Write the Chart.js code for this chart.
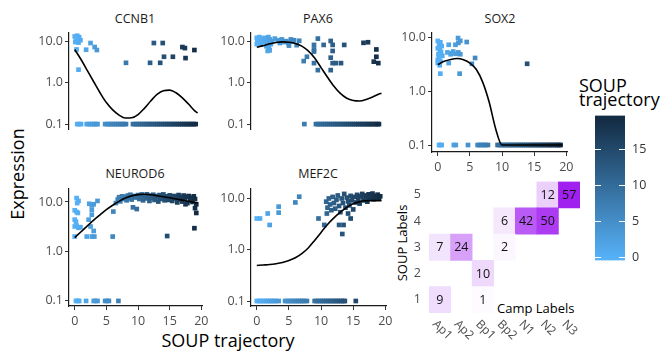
<!DOCTYPE html>
<html>
<head>
<meta charset="utf-8">
<script src="https://cdn.jsdelivr.net/npm/chart.js@4.4.1/dist/chart.umd.min.js"></script>
<style>
body{margin:0;background:#fff;width:661px;height:354px;position:relative;overflow:hidden;font-family:'Open Sans',sans-serif}
canvas{position:absolute}
.t{position:absolute;white-space:nowrap;line-height:1;color:#1a1a1a}
.c{transform:translate(-50%,-50%)}
</style>
</head>
<body>
<div class="t c" style="left:135px;top:19px;font-size:12.5px">CCNB1</div>
<div class="t c" style="left:318px;top:19px;font-size:12.5px">PAX6</div>
<div class="t c" style="left:500px;top:19px;font-size:12.5px">SOX2</div>
<div class="t c" style="left:135px;top:174px;font-size:12.5px">NEUROD6</div>
<div class="t c" style="left:318px;top:174px;font-size:12.5px">MEF2C</div>
<div class="t c" style="left:17px;top:174px;font-size:18px;color:#000;transform:translate(-50%,-50%) rotate(-90deg)">Expression</div>
<div class="t c" style="left:228px;top:340px;font-size:18px;color:#000">SOUP trajectory</div>
<div class="t" style="left:579px;top:76px;font-size:18px;color:#000">SOUP</div>
<div class="t" style="left:579px;top:90px;font-size:18px;color:#000">trajectory</div>
<div class="t" style="left:497px;top:302px;font-size:13px;color:#000">Camp Labels</div>
<div class="t c" style="left:402px;top:243px;font-size:13px;color:#000;transform:translate(-50%,-50%) rotate(-90deg)">SOUP Labels</div>
<script>
// ---- data ----
const xTicks = [0, 5, 10, 15, 20]
const yTicks = [0.1, 1, 10]
const yTickLabels = ['0.1', '1.0', '10.0']
const ZERO = 0.1   // cells with no expression sit on the 0.1 row

const curveX = [0,1,2,3,4,5,6,7,8,9,10,11,12,13,14,15,16,17,18,19,19.4]

const ccnb1X = [0.0,0.4,0.7,0.2,0.9,0.1,0.6,0.3,2.5,1.8,3.15,3.5,0.6,8.1,11.9,12.5,13.9,13.5,14.1,15.5,17.0,17.4,17.5,18.9]
const ccnb1Y = [13,13.5,12.5,11,10.5,9.5,9.2,6.3,9.0,6.2,7.2,6.1,2.05,3.0,3.0,9.0,9.0,3.0,4.2,4.2,7.2,6.8,3.9,6.1]
const ccnb1Zero = [0.4,0.7,1.0,1.9,2.2,2.5,2.8,3.1,3.4,3.6,4.8,5.1,5.4,5.7,6.0,6.3,6.6,6.9,7.2,7.5,7.8,8.1,
  9.2,9.5,9.8,10.1,10.4,10.7,11.0,11.3,11.6,11.9,12.2,12.5,12.8,13.1,13.4,13.7,14.0,14.3,14.6,14.9,15.2,
  15.5,15.8,16.1,16.4,16.7,17.0,17.3,17.6,17.9,18.2,18.5,18.8,19.1]
const ccnb1Curve = [6.3,3.6,1.95,1.05,0.57,0.33,0.22,0.165,0.14,0.142,0.17,0.24,0.36,0.52,0.64,0.66,0.57,0.43,0.3,0.205,0.185]

const pax6X = [0.0,0.2,0.4,0.1,0.5,0.3,0.7,0.0,0.6,0.9,1.2,1.4,1.6,1.8,2.0,1.5,1.9,2.2,2.0,1.7,2.4,2.8,3.3,3.6,3.9,
  4.2,4.6,4.9,5.3,5.6,5.0,5.8,6.2,6.6,7.3,7.8,8.9,8.9,8.9,8.9,9.5,9.5,10.4,11.5,11.8,11.8,11.5,11.8,12.3,11.5,
  13.1,13.6,16.6,17.3,18.6,18.6,18.2,18.9]
const pax6Y = [12,11,12.5,10,10.5,9,11.5,8.5,8.2,9.5,12,10.5,9,12.5,11,7.5,7,8.5,6,5.8,10,11.5,10.5,9,11,
  9.5,10,9,11,9.8,7.8,10.5,8,10.2,3.3,4.2,8.1,6.3,5.6,2.95,11.5,2.0,8.1,10.1,8.1,5.8,4.0,2.95,2.95,2.0,
  2.95,8.1,9.1,9.4,6.3,4.2,3.2,2.95]
const pax6Zero = [7.4,9.2,9.5,9.8,10.1,10.4,10.7,11.0,11.3,11.6,11.9,12.2,12.5,12.8,13.1,13.4,13.7,14.0,14.3,
  14.6,14.9,15.2,15.5,15.8,16.1,16.4,16.7,17.0,17.3,17.6,17.9,18.2,18.5,18.8,19.0]
const pax6Curve = [7.1,7.8,8.6,9.3,9.6,9.4,8.8,7.6,5.8,3.9,2.3,1.35,0.82,0.55,0.42,0.37,0.36,0.39,0.45,0.53,0.55]

const sox2X = [0.0,0.4,0.2,0.6,0.0,0.3,0.5,0.1,0.7,0.2,0.0,0.4,0.0,0.3,0.4,1.7,1.7,1.5,2.0,2.4,2.8,3.2,3.5,2.2,
  2.75,3.15,3.2,3.5,3.4,4.5,5.3,5.8,13.9]
const sox2Y = [8.5,8.0,7.2,6.8,6.2,5.8,5.3,4.8,4.5,4.2,3.8,3.6,3.3,3.0,2.1,7.2,3.3,5.2,4.8,5.4,4.9,5.2,4.8,5.0,
  7.2,9.6,7.8,8.5,2.1,8.1,3.2,4.1,3.2]
const sox2Zero = [0.2,0.4,0.6,2.5,2.8,4.7,6.2,6.5,6.8,7.1,7.4,7.8,9.3,9.6,9.9,10.2,10.5,10.8,11.1,11.4,11.7,
  12.0,12.3,12.6,12.9,13.2,13.5,13.8,14.1,14.4,14.7,15.0,15.3,15.6,15.9,16.2,16.5,16.8,17.1,17.4,17.7,18.0,
  18.3,18.6,18.9,19.1]
const sox2Curve = [3.1,3.55,3.85,4.0,3.8,3.3,2.5,1.45,0.62,0.2,0.1,0.1,0.1,0.1,0.1,0.1,0.1,0.1,0.1,0.1,0.1]

const neurod6X = [0.3,0.6,0.4,0.0,0.3,0.5,0.0,0.2,0.0,0.3,0.6,0.9,0.0,1.9,2.7,3.1,2.3,2.7,3.0,2.7,2.2,2.7,2.5,
  3.6,3.0,6.0,6.1,6.5,6.8,7.0,7.2,7.5,7.7,7.9,8.2,8.4,8.6,8.8,9.0,9.2,9.4,9.6,9.8,10.0,10.2,10.4,10.6,10.8,
  11.0,11.2,11.4,11.6,11.8,12.0,12.2,12.4,12.6,12.8,13.0,13.2,13.4,13.6,13.8,14.0,14.2,14.4,14.6,14.8,15.0,
  15.2,15.4,15.6,15.8,16.0,16.2,16.4,16.6,16.8,17.0,17.2,17.4,17.6,17.8,18.0,18.2,18.4,18.6,18.8,19.0,19.2,
  19.0,19.2,18.9,14.6,17.5]
const neurod6Y = [12,10.5,9.5,6.8,6.3,6.0,4.4,4.0,3.2,3.3,3.0,3.1,2.0,2.0,2.0,2.0,9.2,8.5,9.0,6.9,4.4,5.5,3.2,
  10.5,2.6,2.0,6.4,9.5,11.2,12.5,10.3,13.0,11.5,12.8,10.8,13.5,12.0,14.0,11.2,7.8,13.2,12.3,7.2,13.8,11.5,12.8,
  14.2,10.8,13.0,11.8,14.3,12.5,10.5,13.5,12.0,14.0,11.0,13.2,12.4,10.2,13.8,11.5,12.8,14.2,10.8,13.0,12.0,
  11.0,13.6,12.5,10.5,13.2,11.8,12.9,9.8,13.8,11.3,12.6,10.2,13.5,11.8,12.8,9.5,13.2,11.0,12.2,10.0,13.0,
  11.5,9.0,7.5,6.0,2.95,2.05,9.0]
const neurod6Zero = [0.2,0.5,0.7,1.8,3.0,3.3,3.6,4.8,5.1,5.4,6.9]
const neurod6Curve = [1.9,2.5,3.3,4.3,5.5,7.0,8.6,10.3,12.0,13.3,14.1,14.3,14.0,13.4,12.8,12.2,11.5,10.9,10.3,9.8,9.6]

const mef2cX = [0.0,0.5,2.0,1.7,3.4,3.4,6.0,6.6,9.6,10.5,10.9,12.8,13.3,13.5,14.2,14.6,10.8,11.0,11.2,11.4,
  11.6,11.8,12.0,12.2,12.4,12.6,12.8,13.0,13.2,13.4,13.6,13.8,14.0,14.2,14.4,14.6,14.8,15.0,15.2,15.4,15.6,
  15.8,16.0,16.2,16.4,16.6,16.8,17.0,17.2,17.4,17.6,17.8,18.0,18.2,18.4,18.6,18.8,19.0,19.2]
const mef2cY = [4.0,4.0,3.0,5.0,5.2,6.8,8.2,10.6,4.0,3.0,5.0,3.0,2.0,3.0,5.0,4.0,8.5,6.5,9.8,7.5,5.8,10.5,8.0,
  6.2,9.2,11.2,7.0,5.3,9.8,8.0,12.0,6.5,10.2,8.6,7.2,11.0,9.0,6.0,10.5,8.2,11.5,9.5,7.8,10.8,12.0,9.0,11.2,
  10.0,8.5,11.8,9.8,10.8,12.2,9.5,11.0,10.2,11.6,9.8,10.8]
const mef2cZero = [0.0,0.3,0.6,0.9,1.2,1.5,1.8,2.1,2.4,2.7,3.0,3.4,4.4,4.7,5.0,5.3,5.6,5.9,6.2,6.5,6.8,7.1,
  7.4,7.8,9.0,9.3,9.6,9.9,10.2,10.5,10.8,11.1,11.4,11.7,12.0,12.3,12.6,12.9,13.2,13.5,13.7,15.4]
const mef2cCurve = [0.49,0.5,0.51,0.53,0.56,0.61,0.69,0.83,1.07,1.5,2.15,3.05,4.1,5.3,6.6,7.7,8.5,8.85,8.9,8.9,8.9]

// contingency table: SOUP label rows 1..5, Camp label columns
const campLabels = ['Ap1', 'Ap2', 'Bp1', 'Bp2', 'N1', 'N2', 'N3']
const soupLabels = ['1', '2', '3', '4', '5']
const soupRow1 = [9, 0, 1, 0, 0, 0, 0]
const soupRow2 = [0, 0, 10, 0, 0, 0, 0]
const soupRow3 = [7, 24, 0, 2, 0, 0, 0]
const soupRow4 = [0, 0, 0, 6, 42, 50, 0]
const soupRow5 = [0, 0, 0, 0, 0, 12, 57]

const trajTicks = [0, 5, 10, 15]
const trajMax = 19.3

// ---- styling ----
const FONT = "'Open Sans', sans-serif"
const LIGHT = [86, 177, 247]
const DARK = [19, 43, 67]
const PURPLE = [160, 32, 240]

function mix(a, b, t) {
  return 'rgb(' + a.map((v, i) => Math.round(v + (b[i] - v) * t)).join(',') + ')'
}
function trajColor(v) {
  return mix(LIGHT, DARK, Math.max(0, Math.min(1, v / trajMax)))
}
function heatColor(n) {
  return mix([255, 255, 255], PURPLE, n / 57)
}

function makeCanvas(left, top, w, h) {
  const c = document.createElement('canvas')
  c.width = w
  c.height = h
  c.style.left = left + 'px'
  c.style.top = top + 'px'
  document.body.appendChild(c)
  return c
}

const YW = 45, PT = 14, PR = 14, PB = 14, XH = 22

function painel(box, xs, ys, zeros, curve, yMin, yMax, showX) {
  const h = PT + (box.B - box.T) + (showX ? XH : PB)
  const cv = makeCanvas(box.L - YW, box.T - PT, YW + (box.R - box.L) + PR, h)
  const pts = xs.map((x, i) => ({x: x, y: ys[i]})).concat(zeros.map(x => ({x: x, y: ZERO})))
  const line = curveX.map((x, i) => ({x: x, y: curve[i]}))
  new Chart(cv, {
    type: 'scatter',
    data: {
      datasets: [
        {
          data: pts,
          pointStyle: 'rect',
          pointRadius: 3.3,
          pointHoverRadius: 3.3,
          borderWidth: 0,
          backgroundColor: ctx => trajColor(ctx.raw ? ctx.raw.x : 0),
          order: 2
        },
        {
          type: 'line',
          data: line,
          showLine: true,
          borderColor: '#000',
          borderWidth: 1.6,
          pointRadius: 0,
          cubicInterpolationMode: 'monotone',
          fill: false,
          order: 1
        }
      ]
    },
    options: {
      responsive: false,
      animation: false,
      events: [],
      layout: {autoPadding: false, padding: {left: 0, top: PT, right: PR, bottom: showX ? 0 : PB}},
      plugins: {legend: {display: false}, tooltip: {enabled: false}},
      scales: {
        x: {
          type: 'linear', min: -0.9, max: 20.1, display: showX,
          afterFit: s => { s.height = XH },
          afterBuildTicks: s => { s.ticks = xTicks.map(v => ({value: v})) },
          grid: {display: true, drawOnChartArea: false, drawTicks: true, tickLength: 4, color: '#333'},
          border: {display: true, color: '#1a1a1a', width: 1.2},
          ticks: {color: '#4d4d4d', font: {family: FONT, size: 12.5}, padding: 4, maxRotation: 0}
        },
        y: {
          type: 'logarithmic', min: yMin, max: yMax,
          afterFit: s => { s.width = YW },
          afterBuildTicks: s => { s.ticks = yTicks.map(v => ({value: v})) },
          grid: {display: true, drawOnChartArea: false, drawTicks: true, tickLength: 4, color: '#333'},
          border: {display: true, color: '#1a1a1a', width: 1.2},
          ticks: {
            color: '#4d4d4d', font: {family: FONT, size: 12.5}, padding: 2,
            callback: v => yTickLabels[yTicks.indexOf(v)]
          }
        }
      }
    }
  })
}

painel({L: 69, T: 33, R: 202, B: 151}, ccnb1X, ccnb1Y, ccnb1Zero, ccnb1Curve, 0.0762, 15.7, false)
painel({L: 251, T: 33, R: 386, B: 151}, pax6X, pax6Y, pax6Zero, pax6Curve, 0.0762, 15.7, false)
painel({L: 432, T: 33, R: 567, B: 152}, sox2X, sox2Y, sox2Zero, sox2Curve, 0.0742, 11.9, true)
painel({L: 69, T: 189, R: 202, B: 306}, neurod6X, neurod6Y, neurod6Zero, neurod6Curve, 0.079, 18.3, true)
painel({L: 251, T: 189, R: 386, B: 306}, mef2cX, mef2cY, mef2cZero, mef2cCurve, 0.080, 14.96, true)

// ---- heatmap of label agreement ----
const rows = [soupRow1, soupRow2, soupRow3, soupRow4, soupRow5]
const HL = 429, HT = 180, HR = 580, HB = 313, HYW = 30
const cvHeat = makeCanvas(HL - HYW, HT - 14, HYW + (HR - HL) + 16, (HB - HT) + 14 + 40)

const celulas = {
  id: 'celulas',
  afterDatasetsDraw(chart) {
    const ctx = chart.ctx
    ctx.save()
    ctx.font = '12.5px ' + FONT
    ctx.fillStyle = '#111'
    ctx.textAlign = 'center'
    ctx.textBaseline = 'middle'
    chart.data.datasets.forEach((ds, di) => {
      chart.getDatasetMeta(di).data.forEach((el, i) => {
        const n = rows[di][i]
        if (n > 0) ctx.fillText(String(n), el.x, (el.y + el.base) / 2 + 0.5)
      })
    })
    // rotated camp labels under the tiles
    const xs = chart.scales.x
    ctx.fillStyle = '#4d4d4d'
    ctx.font = '12px ' + FONT
    ctx.textAlign = 'left'
    ctx.textBaseline = 'top'
    campLabels.forEach((lab, i) => {
      ctx.save()
      ctx.translate(xs.getPixelForValue(i) - 1, chart.chartArea.bottom + 5)
      ctx.rotate(Math.PI / 4)
      ctx.fillText(lab, 0, 0)
      ctx.restore()
    })
    ctx.restore()
  }
}

new Chart(cvHeat, {
  type: 'bar',
  data: {
    labels: campLabels,
    datasets: rows.map((r, ri) => ({
      data: r.map(n => n > 0 ? [ri + 0.5, ri + 1.5] : null),
      backgroundColor: r.map(heatColor),
      borderWidth: 0,
      barPercentage: 1,
      categoryPercentage: 1,
      grouped: false
    }))
  },
  options: {
    responsive: false,
    animation: false,
    events: [],
    layout: {autoPadding: false, padding: {left: 0, top: 14, right: 16, bottom: 40}},
    plugins: {legend: {display: false}, tooltip: {enabled: false}},
    scales: {
      x: {display: false},
      y: {
        type: 'linear', min: 0.5, max: 5.5,
        afterFit: s => { s.width = HYW },
        afterBuildTicks: s => { s.ticks = soupLabels.map((l, i) => ({value: i + 1})) },
        grid: {display: false, drawTicks: false, tickLength: 0},
        border: {display: false},
        ticks: {color: '#4d4d4d', font: {family: FONT, size: 12.5}, padding: 8,
          callback: v => soupLabels[v - 1]}
      }
    }
  },
  plugins: [celulas]
})

// ---- colour bar legend ----
const CL = 595, CT = 115, CR = 625, CB = 261
const cvBar = makeCanvas(CL - 14, CT - 14, 14 + (CR - CL) + 32, (CB - CT) + 28)

const marcas = {
  id: 'marcas',
  afterDatasetsDraw(chart) {
    const ctx = chart.ctx
    const a = chart.chartArea
    const ys = chart.scales.y
    ctx.save()
    ctx.strokeStyle = '#fff'
    ctx.lineWidth = 1
    trajTicks.forEach(v => {
      const y = Math.round(ys.getPixelForValue(v)) + 0.5
      ctx.beginPath()
      ctx.moveTo(a.left, y); ctx.lineTo(a.left + 6, y)
      ctx.moveTo(a.right - 6, y); ctx.lineTo(a.right, y)
      ctx.stroke()
    })
    ctx.restore()
  }
}

new Chart(cvBar, {
  type: 'bar',
  data: {
    labels: [''],
    datasets: [{
      data: [[-0.42, 19.68]],
      backgroundColor: ctx => {
        const ch = ctx.chart
        const a = ch.chartArea
        if (!a) return trajColor(0)
        const ys = ch.scales.y
        const g = ch.ctx.createLinearGradient(0, ys.getPixelForValue(0), 0, ys.getPixelForValue(trajMax))
        g.addColorStop(0, trajColor(0))
        g.addColorStop(0.5, trajColor(trajMax / 2))
        g.addColorStop(1, trajColor(trajMax))
        return g
      },
      borderWidth: 0,
      barPercentage: 1,
      categoryPercentage: 1
    }]
  },
  options: {
    responsive: false,
    animation: false,
    events: [],
    layout: {autoPadding: false, padding: {left: 14, top: 14, right: 0, bottom: 14}},
    plugins: {legend: {display: false}, tooltip: {enabled: false}},
    scales: {
      x: {display: false},
      y: {
        position: 'right', type: 'linear', min: -0.42, max: 19.68,
        afterFit: s => { s.width = 32 },
        afterBuildTicks: s => { s.ticks = trajTicks.map(v => ({value: v})) },
        grid: {display: false, drawTicks: false, tickLength: 0},
        border: {display: false},
        ticks: {color: '#333', font: {family: FONT, size: 12.5}, padding: 7}
      }
    }
  },
  plugins: [marcas]
})
</script>
</body>
</html>
